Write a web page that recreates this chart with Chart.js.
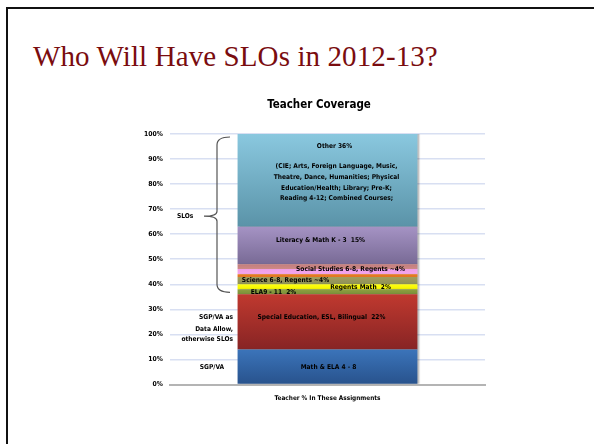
<!DOCTYPE html>
<html>
<head>
<meta charset="utf-8">
<script src="https://cdn.jsdelivr.net/npm/chart.js@4"></script>
<style>
  html, body { margin: 0; padding: 0; background: #fff; }
  body { width: 594px; height: 444px; position: relative; overflow: hidden; }
  #frame { position: absolute; left: 6px; top: 7px; width: 600px; height: 450px;
           border-top: 2.5px solid #111; border-left: 2.5px solid #111; }
  #slideTitle { position: absolute; left: 33px; top: 42px; margin: 0;
                font-family: "Liberation Serif", serif; font-size: 29px; line-height: 1;
                font-weight: normal; color: #7a0c0f; white-space: nowrap; letter-spacing: 0.1px; }
  #wrap { position: absolute; left: 0; top: 0; width: 594px; height: 444px; }
</style>
</head>
<body>
<div id="frame"></div>
<h1 id="slideTitle">Who Will Have SLOs in 2012-13?</h1>
<div id="wrap"><canvas id="c" width="594" height="444"></canvas></div>
<script>
// ---- data ----
const chartTitle = "Teacher Coverage";
const categories = [""];
const seriesNames = [
  "Math & ELA 4 - 8",
  "Special Education, ESL, Bilingual",
  "ELA9 - 11",
  "Regents Math",
  "Science 6-8, Regents",
  "Social Studies 6-8, Regents",
  "Literacy & Math K - 3",
  "Other"
];
const seriesValues = [14, 22, 2, 2, 4, 4, 15, 37];
const segmentLabels = [
  "Math & ELA 4 - 8",
  "Special Education, ESL, Bilingual  22%",
  "ELA9 - 11  2%",
  "Regents Math  2%",
  "Science 6-8, Regents ~4%",
  "Social Studies 6-8, Regents ~4%",
  "Literacy & Math K - 3  15%",
  "Other 36%"
];
const otherDetailLines = [
  "(CIE; Arts, Foreign Language, Music,",
  "Theatre, Dance, Humanities; Physical",
  "Education/Health; Library; Pre-K;",
  "Reading 4-12; Combined Courses;"
];
const yTicks = [0, 10, 20, 30, 40, 50, 60, 70, 80, 90, 100];

// ---- styles ----
const gradStops = [
  [[0, "#28528c"], [1, "#3b74ba"]],
  [[0, "#872424"], [1, "#c0392f"]],
  [[0, "#7a8f3a"], [1, "#8ea040"]],
  [[0, "#f2f200"], [1, "#ffff10"]],
  [[0, "#8e9257"], [0.7, "#a29c5c"], [0.74, "#e07428"], [1, "#ea7e1c"]],
  [[0, "#f4a6ee"], [0.5, "#ef9fe6"], [0.56, "#cc8a86"], [1, "#c47c7c"]],
  [[0, "#786a95"], [1, "#a593c4"]],
  [[0, "#5a93a8"], [1, "#8ac8df"]]
];
// label placement: [y value (%), x offset from bar centre (px)]
const labelPos = [[6.8, 1], [26.8, -6], [36.9, -54], [38.9, 33], [41.6, -42], [45.9, 23], [57.6, -7], [95.2, 7]];
const detailPos = [[87.2, 9], [82.8, 9], [78.4, 9], [74.4, 9]];
const FONT = "'DejaVu Sans Condensed', 'DejaVu Sans', sans-serif";

function makeGradient(ctx, chart, dsIndex) {
  const area = chart.chartArea;
  if (!area) return gradStops[dsIndex][0][1];
  const y = chart.scales.y;
  let start = 0;
  for (let i = 0; i < dsIndex; i++) start += seriesValues[i];
  const end = start + seriesValues[dsIndex];
  const y0 = y.getPixelForValue(start), y1 = y.getPixelForValue(end);
  const g = ctx.createLinearGradient(0, y0, 0, y1);
  gradStops[dsIndex].forEach(s => g.addColorStop(s[0], s[1]));
  return g;
}

const annotations = {
  id: "annotations",
  beforeDatasetsDraw(chart) {
    const ctx = chart.ctx;
    ctx.save();
    ctx.shadowColor = "rgba(0,0,0,0.25)";
    ctx.shadowOffsetX = 2;
    ctx.shadowOffsetY = 0;
    ctx.shadowBlur = 1;
  },
  afterDatasetsDraw(chart) {
    chart.ctx.restore();
  },
  afterDraw(chart) {
    const ctx = chart.ctx;
    const y = chart.scales.y, x = chart.scales.x;
    const cx = x.getPixelForValue(0);
    ctx.save();
    ctx.fillStyle = "#000";
    ctx.textBaseline = "middle";
    ctx.textAlign = "center";
    ctx.font = "bold 11.5px " + FONT;
    ctx.fillText(chartTitle, 319, 105);
    ctx.font = "bold 6.6px " + FONT;
    segmentLabels.forEach((t, i) => {
      ctx.fillText(t, cx + labelPos[i][1], y.getPixelForValue(labelPos[i][0]));
    });
    otherDetailLines.forEach((t, i) => {
      ctx.fillText(t, cx + detailPos[i][1], y.getPixelForValue(detailPos[i][0]));
    });
    // left side notes
    ctx.textAlign = "left";
    ctx.fillText("SLOs", 177, y.getPixelForValue(67));
    ctx.textAlign = "right";
    ctx.fillText("SGP/VA as", 233, y.getPixelForValue(26.8));
    ctx.fillText("Data Allow,", 233, y.getPixelForValue(22));
    ctx.fillText("otherwise SLOs", 233, y.getPixelForValue(18));
    ctx.textAlign = "center";
    ctx.fillText("SGP/VA", 212, y.getPixelForValue(6.8));
    // brace
    const top = y.getPixelForValue(98.8), mid = y.getPixelForValue(67.2), bot = y.getPixelForValue(36.8);
    const bx = 217;
    ctx.strokeStyle = "#555";
    ctx.lineWidth = 1.2;
    ctx.beginPath();
    ctx.moveTo(230, top);
    ctx.quadraticCurveTo(bx, top, bx, top + 8);
    ctx.lineTo(bx, mid - 5);
    ctx.quadraticCurveTo(bx, mid, 204, mid);
    ctx.quadraticCurveTo(bx, mid, bx, mid + 5);
    ctx.lineTo(bx, bot - 8);
    ctx.quadraticCurveTo(bx, bot, 230, bot);
    ctx.stroke();
    ctx.restore();
  }
};

const datasets = seriesNames.map((name, i) => ({
  label: name,
  data: [seriesValues[i]],
  backgroundColor: (c) => makeGradient(c.chart.ctx, c.chart, i),
  borderWidth: 0,
  barPercentage: 0.571,
  categoryPercentage: 1.0
}));

new Chart(document.getElementById("c"), {
  type: "bar",
  data: { labels: categories, datasets },
  plugins: [annotations],
  options: {
    responsive: false,
    animation: false,
    layout: { padding: { left: 0, right: 109, top: 134, bottom: 41.6 } },
    plugins: {
      legend: { display: false },
      tooltip: { enabled: false },
      title: { display: false }
    },
    scales: {
      x: {
        stacked: true,
        grid: { display: false, drawTicks: false },
        border: { display: true, color: "#b4b4b4", width: 2 },
        ticks: { display: false },
        title: {
          display: true,
          text: "Teacher % In These Assignments",
          color: "#000",
          font: { family: FONT, size: 6.4, weight: "bold" },
          padding: { top: 10.2, bottom: 0 }
        }
      },
      y: {
        stacked: true,
        min: 0, max: 100,
        afterFit(scale) { scale.width = 170; },
        afterBuildTicks(scale) { scale.ticks = yTicks.map(v => ({ value: v })); },
        grid: { color: "#d8dff2", lineWidth: 1.6, drawTicks: false },
        border: { display: false },
        ticks: {
          padding: 7,
          color: "#000",
          font: { family: FONT, size: 6.8, weight: "bold" },
          callback: (v) => v + "%"
        }
      }
    }
  }
});
</script>
</body>
</html>
